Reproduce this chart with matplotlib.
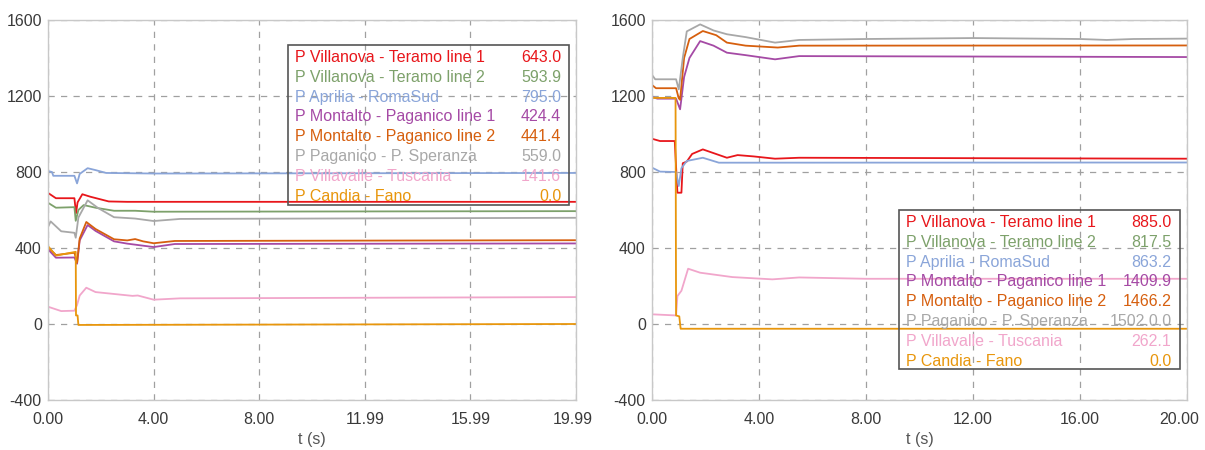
import matplotlib
matplotlib.use("Agg")
import matplotlib.pyplot as plt
import matplotlib.transforms as mtransforms
from matplotlib.patches import Rectangle

plt.rcParams['font.family'] = ['Liberation Sans', 'DejaVu Sans']

names = ["P Villanova - Teramo line 1", "P Villanova - Teramo line 2", "P Aprilia - RomaSud",
         "P Montalto - Paganico line 1", "P Montalto - Paganico line 2", "P Paganico - P. Speranza",
         "P Villavalle - Tuscania", "P Candia - Fano"]
colors = ['#e8161b', '#7da16b', '#8aa5d9', '#a54aa5', '#d65f0e', '#a8a8a8', '#f1a6cb', '#e8960c']

left_values = ["643.0", "593.9", "795.0", "424.4", "441.4", "559.0", "141.6", "0.0"]
right_values = ["885.0", "817.5", "863.2", "1409.9", "1466.2", "1502.0.0", "262.1", "0.0"]

left_xticks = [0, 4.00, 8.00, 11.99, 15.99, 19.99]
left_xlabels = ["0.00", "4.00", "8.00", "11.99", "15.99", "19.99"]
right_xticks = [0, 4, 8, 12, 16, 20]
right_xlabels = ["0.00", "4.00", "8.00", "12.00", "16.00", "20.00"]
yticks = [-400, 0, 400, 800, 1200, 1600]

# ---- left panel series ----
L_red_t = [0, 0.3, 1.0, 1.06, 1.12, 1.3, 1.6, 2.3, 3.0, 5, 19.99]
L_red = [690, 662, 662, 583, 640, 683, 670, 645, 643, 643, 643]
L_green_t = [0, 0.3, 1.0, 1.05, 1.15, 1.35, 1.8, 2.5, 3.3, 4, 19.99]
L_green = [638, 612, 615, 543, 600, 626, 612, 596, 596, 591, 594]
L_blue_t = [0, 0.15, 0.2, 1.0, 1.1, 1.2, 1.5, 1.8, 2.2, 4, 19.99]
L_blue = [805, 800, 780, 780, 740, 790, 820, 810, 795, 792, 795]
L_purple_t = [0, 0.3, 1.0, 1.1, 1.2, 1.5, 1.8, 2.5, 3.0, 4.0, 4.8, 19.99]
L_purple = [393, 349, 350, 317, 440, 521, 490, 435, 423, 405, 421, 424]
L_orange_t = [0, 0.3, 1.0, 1.1, 1.2, 1.45, 1.8, 2.5, 3.0, 3.3, 3.6, 4.0, 4.8, 19.99]
L_orange = [405, 363, 375, 323, 450, 537, 500, 446, 440, 447, 435, 425, 437, 441]
L_gray_t = [0, 0.1, 0.5, 1.0, 1.05, 1.15, 1.5, 1.9, 2.5, 3.3, 4.0, 5.0, 19.99]
L_gray = [510, 540, 488, 480, 454, 560, 651, 610, 562, 555, 542, 553, 559]
L_pink_t = [0, 0.5, 1.0, 1.1, 1.2, 1.45, 1.8, 3.2, 3.4, 4.0, 5.0, 19.99]
L_pink = [91, 68, 70, 100, 150, 191, 168, 148, 150, 128, 135, 141.6]
L_candia_t = [0, 0.3, 1.05, 1.06, 1.12, 1.15, 19.99]
L_candia = [410, 360, 380, 45, 45, -5, 0]

# ---- right panel series ----
R_red_t = [0, 0.3, 0.85, 0.95, 1.1, 1.15, 1.3, 1.5, 1.9, 2.8, 3.2, 3.8, 4.6, 5.5, 20]
R_red = [975, 963, 963, 691, 691, 846, 855, 895, 919, 875, 889, 882, 870, 875, 870]
R_blue_t = [0, 0.3, 0.9, 1.0, 1.1, 1.3, 1.9, 2.5, 20]
R_blue = [823, 802, 800, 726, 820, 858, 875, 849, 850]
R_purple_t = [0, 0.2, 0.9, 1.05, 1.2, 1.4, 1.8, 2.3, 2.8, 3.5, 4.6, 5.5, 20]
R_purple = [1195, 1186, 1186, 1130, 1300, 1400, 1489, 1465, 1428, 1415, 1393, 1410, 1405]
R_orange_t = [0, 0.15, 0.9, 1.0, 1.05, 1.2, 1.4, 1.9, 2.4, 2.8, 3.5, 4.7, 5.5, 20]
R_orange = [1258, 1241, 1241, 1188, 1180, 1400, 1500, 1542, 1520, 1481, 1465, 1455, 1465, 1466]
R_gray_t = [0, 0.12, 0.9, 1.0, 1.15, 1.3, 1.8, 2.3, 2.8, 3.5, 4.6, 5.5, 8, 12, 16, 17, 18, 20]
R_gray = [1311, 1288, 1288, 1235, 1400, 1540, 1577, 1545, 1525, 1510, 1481, 1495, 1500, 1505, 1500, 1495, 1500, 1502]
R_pink_t = [0, 0.9, 0.95, 1.1, 1.35, 1.8, 3.0, 4.5, 5.5, 8, 20]
R_pink = [51, 45, 147, 175, 291, 270, 247, 235, 245, 238, 238]
R_candia_t = [0, 0.88, 0.9, 1.02, 1.07, 1.1, 20]
R_candia = [1190, 1190, 45, 40, -25, -25, -25]

left_series = [(L_red_t, L_red), (L_green_t, L_green), (L_blue_t, L_blue), (L_purple_t, L_purple),
               (L_orange_t, L_orange), (L_gray_t, L_gray), (L_pink_t, L_pink), (L_candia_t, L_candia)]
right_series = [(R_red_t, R_red), None, (R_blue_t, R_blue), (R_purple_t, R_purple),
                (R_orange_t, R_orange), (R_gray_t, R_gray), (R_pink_t, R_pink), (R_candia_t, R_candia)]

W, H = 1205, 450
FS = 11.5
fig = plt.figure(figsize=(W / 100, H / 100), dpi=100)

def make_axes(rect_px, series, xlim, xticks, xlabels, values, box, text_x, last_shift):
    x0, y0, w, h = rect_px
    ax = fig.add_axes([x0 / W, (H - y0 - h) / H, w / W, h / H])
    for s, c in zip(series, colors):
        if s is None:
            continue
        ax.plot(s[0], s[1], color=c, lw=1.3)
    ax.set_xlim(*xlim)
    ax.set_ylim(-400, 1600)
    ax.set_xticks(xticks)
    ax.set_xticklabels(xlabels)
    ax.set_yticks(yticks)
    ax.set_yticklabels([str(v) for v in yticks])
    ax.tick_params(axis='x', length=0, labelsize=FS, labelcolor='#3a3a3a', pad=9)
    ax.tick_params(axis='y', length=0, labelsize=FS, labelcolor='#3a3a3a', pad=4.5)
    lbl = ax.get_xticklabels()[-1]
    lbl.set_transform(lbl.get_transform() + mtransforms.ScaledTranslation(last_shift / 100, 0, fig.dpi_scale_trans))
    ax.grid(True, color='#a0a0a0', linestyle=(0, (5, 5)), lw=0.9)
    for sp in ax.spines.values():
        sp.set_color('#c8c8c8')
        sp.set_linewidth(1.0)
    ax.set_xlabel("t (s)", fontsize=FS, color='#555555', labelpad=3)
    bx0, by0, bx1, by1 = box
    ax.add_patch(Rectangle((bx0, by0), bx1 - bx0, by1 - by0, transform=ax.transAxes,
                           fill=False, edgecolor='#555555', lw=1.2, zorder=5))
    tl, tr = text_x
    row_h = 19.8 / h
    top = by1 - (12.5 / h)
    for i, (n, v, c) in enumerate(zip(names, values, colors)):
        yy = top - i * row_h
        ax.text(tl, yy, n, transform=ax.transAxes, color=c, fontsize=FS, va='center', ha='left', zorder=6)
        ax.text(tr, yy, v, transform=ax.transAxes, color=c, fontsize=FS, va='center', ha='right', zorder=6)
    return ax

make_axes((48, 20, 528, 380), left_series, (0, 19.99), left_xticks, left_xlabels, left_values,
          (0.4545, 0.513, 0.987, 0.934), (0.468, 0.972), -3)
make_axes((652, 20, 535, 380), right_series, (0, 20), right_xticks, right_xlabels, right_values,
          (0.4617, 0.081, 0.987, 0.5), (0.475, 0.971), -8)

fig.savefig("out.png", dpi=100)
